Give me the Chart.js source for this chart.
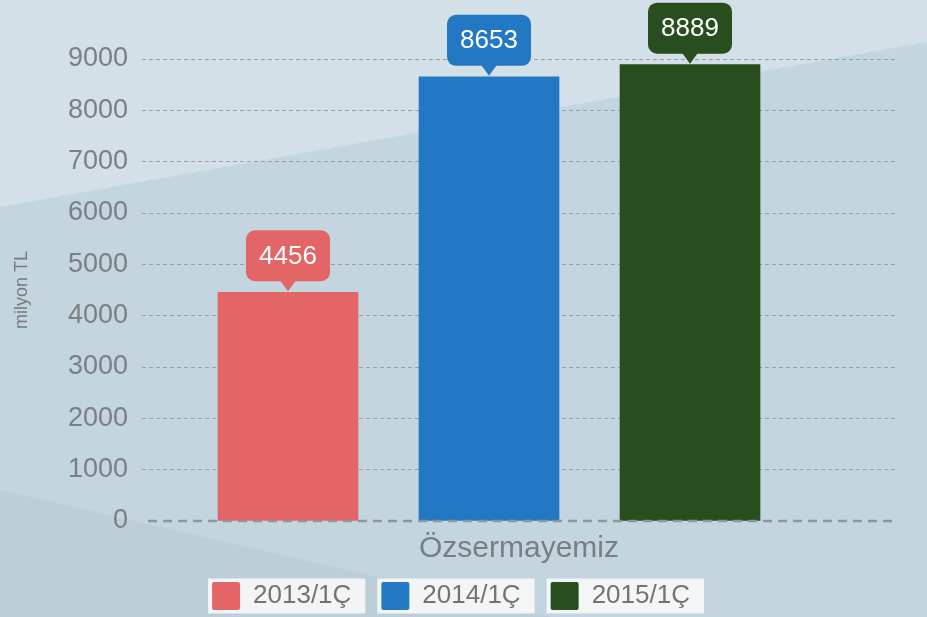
<!DOCTYPE html>
<html>
<head>
<meta charset="utf-8">
<style>
  html, body { margin: 0; padding: 0; background: #c4d6df; }
  #chart { display: block; }
</style>
<script src="https://cdn.jsdelivr.net/npm/chart.js@4/dist/chart.umd.min.js"></script>
</head>
<body>
<canvas id="chart" width="927" height="617"></canvas>
<script>
const CATEGORY = 'Özsermayemiz';
const SERIES = ['2013/1Ç', '2014/1Ç', '2015/1Ç'];
const VALUES = [4456, 8653, 8889];
const COLORS = ['#e36565', '#2278c2', '#284d1f'];
const Y_MAX = 9000;
const Y_STEP = 1000;
const Y_TITLE = 'milyon TL';

const FONT = "'Liberation Sans', Arial, sans-serif";
const GRAY = '#7b7f83';

Chart.defaults.font.family = FONT;
Chart.defaults.color = GRAY;

// fundo em faixas diagonais + caixas brancas da legenda
const fundo = {
  id: 'fundo',
  beforeDraw(chart) {
    const { ctx, width: w, height: h } = chart;
    ctx.save();
    ctx.fillStyle = '#c3d5df';
    ctx.fillRect(0, 0, w, h);

    ctx.fillStyle = '#d3e0e7';
    ctx.beginPath();
    ctx.moveTo(0, 0);
    ctx.lineTo(w, 0);
    ctx.lineTo(w, 207 - 0.178 * w);
    ctx.lineTo(0, 207);
    ctx.closePath();
    ctx.fill();

    ctx.fillStyle = '#bccfd8';
    ctx.beginPath();
    ctx.moveTo(0, 490);
    ctx.lineTo((h - 490) / 0.23, h);
    ctx.lineTo(0, h);
    ctx.closePath();
    ctx.fill();

    const boxes = chart.legend && chart.legend.legendHitBoxes;
    if (boxes) {
      ctx.fillStyle = 'rgba(247, 247, 247, 0.92)';
      boxes.forEach(b => {
        const cy = b.top + b.height / 2;
        ctx.fillRect(b.left - 4, cy - 17.5, b.width + 18, 35);
      });
    }
    ctx.restore();
  }
};

// linha do zero por cima das barras
const linhaZero = {
  id: 'linhaZero',
  afterDatasetsDraw(chart) {
    const { ctx, chartArea } = chart;
    const y0 = chart.scales.y.getPixelForValue(0);
    ctx.save();
    ctx.strokeStyle = '#8e969b';
    ctx.lineWidth = 2.5;
    ctx.setLineDash([9, 6]);
    ctx.beginPath();
    ctx.moveTo(chartArea.left + 6, y0);
    ctx.lineTo(chartArea.right, y0);
    ctx.stroke();
    ctx.restore();
  }
};

// balões com o valor acima de cada barra
const baloes = {
  id: 'baloes',
  afterDatasetsDraw(chart) {
    const ctx = chart.ctx;
    chart.data.datasets.forEach((ds, i) => {
      chart.getDatasetMeta(i).data.forEach(bar => {
        const w = 84, h = 51, tip = 11;
        const x = bar.x;
        const bottom = bar.y - tip;
        ctx.save();
        ctx.fillStyle = ds.backgroundColor;
        ctx.beginPath();
        ctx.roundRect(x - w / 2, bottom - h, w, h, 9);
        ctx.fill();
        ctx.beginPath();
        ctx.moveTo(x - 8, bottom - 1);
        ctx.lineTo(x, bar.y - 1);
        ctx.lineTo(x + 8, bottom - 1);
        ctx.closePath();
        ctx.fill();
        ctx.fillStyle = '#ffffff';
        ctx.font = '26px ' + FONT;
        ctx.textAlign = 'center';
        ctx.textBaseline = 'middle';
        ctx.fillText(String(VALUES[i]), x, bottom - h / 2 + 1);
        ctx.restore();
      });
    });
  }
};

new Chart(document.getElementById('chart'), {
  type: 'bar',
  data: {
    datasets: SERIES.map((label, i) => ({
      label,
      data: [{ x: i + 1, y: VALUES[i] }],
      backgroundColor: COLORS[i],
      borderWidth: 0,
      barThickness: 140,
      grouped: false,
    }))
  },
  options: {
    responsive: false,
    animation: false,
    devicePixelRatio: 1,
    layout: { padding: { top: 59, right: 31, left: 6, bottom: -3 } },
    plugins: {
      tooltip: { enabled: false },
      legend: {
        position: 'bottom',
        labels: {
          boxWidth: 28,
          boxHeight: 28,
          padding: 30,
          color: '#737373',
          useBorderRadius: true,
          borderRadius: 2,
          font: { size: 26 }
        }
      }
    },
    scales: {
      x: {
        type: 'linear',
        offset: false,
        min: 0.2736,
        max: 4.0248,
        ticks: { display: false },
        grid: { display: false, drawTicks: false },
        border: { display: false },
        title: {
          display: true,
          text: CATEGORY,
          color: '#7a7e82',
          font: { size: 30 },
          padding: { top: 10, bottom: -15 }
        }
      },
      y: {
        min: 0,
        max: Y_MAX,
        ticks: {
          stepSize: Y_STEP,
          padding: 14,
          color: GRAY,
          font: { size: 27 },
          callback: v => String(v)
        },
        grid: {
          drawTicks: false,
          color: ctx => ctx.tick && ctx.tick.value === 0 ? 'rgba(0,0,0,0)' : '#979fa5'
        },
        border: {
          display: false,
          dash: [4, 3]
        },
        title: {
          display: true,
          text: Y_TITLE,
          color: '#7a7a7a',
          font: { size: 18 },
          padding: { top: 5, bottom: 0 }
        },
        afterFit: scale => { scale.width = 136; }
      }
    }
  },
  plugins: [fundo, linhaZero, baloes]
});
</script>
</body>
</html>
